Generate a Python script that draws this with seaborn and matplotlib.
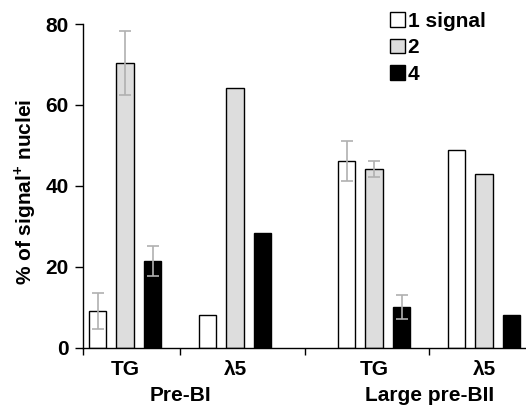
import matplotlib
matplotlib.use("Agg")
import matplotlib.pyplot as plt
import pandas as pd
import seaborn as sns

# values (% of signal+ nuclei)
stages = ["Pre-BI", "Pre-BI", "Large pre-BII", "Large pre-BII"]
cells = ["TG", "λ5", "TG", "λ5"]
signal_levels = ["1 signal", "2", "4"]
one_signal = [9.0, 8.0, 46.1, 48.9]
two_signal = [70.3, 64.3, 44.1, 43.0]
four_signal = [21.4, 28.3, 10.0, 8.0]
one_err = [4.5, 0, 4.9, 0]
two_err = [7.9, 0, 2.0, 0]
four_err = [3.7, 0, 3.0, 0]

# layout: the two stages are separated by a slightly wider gap
stage_gap = 1.264
xpos = [0, 1, 1 + stage_gap, 2 + stage_gap]

rows = []
for vals, errs, lev in zip([one_signal, two_signal, four_signal],
                           [one_err, two_err, four_err], signal_levels):
    for i in range(len(cells)):
        rows.append({"x": xpos[i], "signal": lev, "pct": vals[i], "err": errs[i]})
df = pd.DataFrame(rows)

sns.set_style("ticks")
plt.rcParams["font.family"] = ["Liberation Sans", "DejaVu Sans"]
plt.rcParams["font.weight"] = "bold"
plt.rcParams["text.color"] = "black"
plt.rcParams["xtick.color"] = "black"
plt.rcParams["ytick.color"] = "black"
plt.rcParams["axes.labelcolor"] = "black"
plt.rcParams["mathtext.fontset"] = "custom"
plt.rcParams["mathtext.rm"] = "Liberation Sans"
plt.rcParams["mathtext.bf"] = "Liberation Sans:bold"

fs = 15

fig = plt.figure(figsize=(5.26, 4.07), dpi=100)
ax = fig.add_axes([82.7 / 526, 1 - 347.7 / 407, 443.3 / 526, 323.7 / 407])

palette = {"1 signal": "white", "2": "#dddddd", "4": "black"}
sns.barplot(data=df, x="x", y="pct", hue="signal", hue_order=signal_levels,
            palette=palette, native_scale=True, width=0.75, gap=0.37,
            edgecolor="black", linewidth=1, errorbar=None, ax=ax)

# error bars on top of each bar
for cont, lev in zip(ax.containers, signal_levels):
    sub = df[df.signal == lev].sort_values("x")
    bars = sorted(cont, key=lambda b: b.get_x())
    for b, e in zip(bars, sub["err"]):
        if e > 0:
            ax.errorbar(b.get_x() + b.get_width() / 2, b.get_height(), yerr=e,
                        fmt="none", ecolor="#b0b0b0", elinewidth=1.2,
                        capsize=4, capthick=1.2, zorder=5)

ax.set_ylim(0, 80)
ax.set_xlim(-0.385, 3.645)
ax.set_yticks([0, 20, 40, 60, 80])
ax.set_xticks(xpos)
ax.set_xticklabels(cells)
ax.set_xticks([-0.385, 0.5, 1 + stage_gap / 2, 1.5 + stage_gap], minor=True)
ax.tick_params(axis="x", which="major", length=0, pad=9, labelsize=fs)
ax.tick_params(axis="x", which="minor", length=5, width=1, color="black")
ax.tick_params(axis="y", length=6, width=1, color="black", labelsize=fs, pad=4)
for lab in ax.get_xticklabels() + ax.get_yticklabels():
    lab.set_fontweight("bold")
sns.despine(ax=ax)
for sp in ["left", "bottom"]:
    ax.spines[sp].set_linewidth(1)
    ax.spines[sp].set_color("black")

ax.set_xlabel("")
ax.set_ylabel(r"% of signal$^{\mathbf{+}}$ nuclei", fontsize=fs,
              fontweight="bold")
ax.yaxis.set_label_coords(-0.10, 0.48)

# stage labels under the cell labels
for i in range(0, len(stages), 2):
    ax.text((xpos[i] + xpos[i + 1]) / 2, -0.148, stages[i],
            transform=ax.get_xaxis_transform(), ha="center", va="center",
            fontsize=fs, fontweight="bold")

sns.move_legend(ax, "upper left", bbox_to_anchor=(390 / 526, 1 - 12 / 407),
                bbox_transform=fig.transFigure, frameon=False, title=None,
                handlelength=0.7, handleheight=0.7, handletextpad=0.15,
                labelspacing=0.35, borderpad=0, borderaxespad=0,
                prop={"size": fs, "weight": "bold"})

fig.savefig("out.png", dpi=100)
